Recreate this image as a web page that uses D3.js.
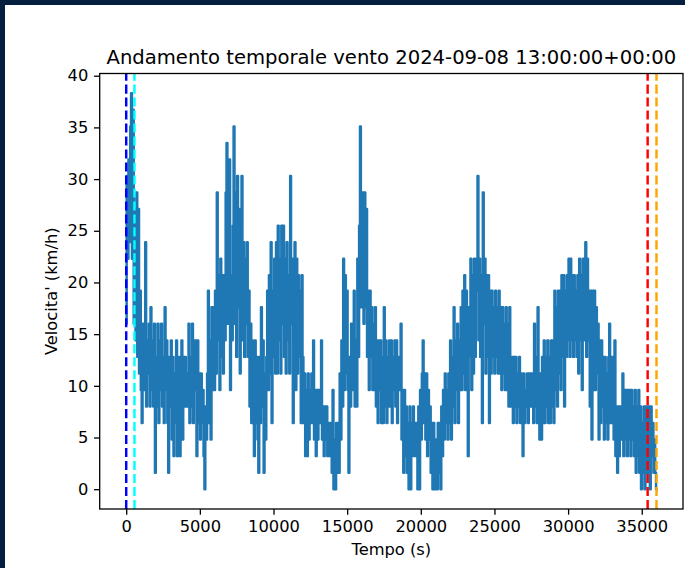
<!DOCTYPE html>
<html>
<head>
<meta charset="utf-8">
<script src="https://cdn.jsdelivr.net/npm/d3@7"></script>
<style>
  html, body { margin: 0; padding: 0; background: #05203f; }
  svg { display: block; }
  text { font-family: "DejaVu Sans", sans-serif; fill: #000; }
</style>
</head>
<body>
<svg id="chart" width="685" height="568"></svg>
<script>
// Wind speed (km/h), one reading per minute from the start of the window
const windSpeedKmh = [
  16,30.3,22.3,31.9,23.9,35.1,38.3,22.3,36.7,16,
  27.1,14.4,28.7,12.8,27.1,11.2,19.2,9.6,6.4,16,
  16,9.6,23.9,8,14.4,11.2,16,8,17.6,9.6,
  14.4,8,16,1.6,12.8,8,16,6.4,14.4,9.6,
  16,8,12.8,6.4,17.6,9.6,14.4,6.4,1.6,12.8,
  8,14.4,4.8,12.8,3.2,11.2,6.4,14.4,3.2,9.6,
  12.8,3.2,11.2,14.4,4.8,12.8,8,12.8,8,11.2,
  8,16,6.4,12.8,8,16,6.4,14.4,9.6,14.4,
  3.2,14.4,6.4,11.2,4.8,11.2,6.4,9.6,3.2,0,
  8,4.8,11.2,19.2,6.4,14.4,4.8,17.6,9.6,17.6,
  9.6,19.2,11.2,28.7,14.4,20.7,9.6,22.3,12.8,20.7,
  11.2,20.7,14.4,28.7,33.5,16,23.9,31.9,9.6,20.7,
  14.4,25.5,35.1,16,28.7,12.8,30.3,17.6,27.1,11.2,
  23.9,30.3,14.4,23.9,12.8,22.3,16,23.9,12.8,19.2,
  8,16,6.4,14.4,8,3.2,14.4,6.4,12.8,4.8,
  1.6,12.8,6.4,17.6,8,14.4,1.6,11.2,4.8,12.8,
  19.2,9.6,20.7,11.2,23.9,6.4,19.2,12.8,22.3,11.2,
  23.9,11.2,25.5,14.4,22.3,11.2,25.5,16,25.5,12.8,
  22.3,11.2,23.9,14.4,20.7,11.2,30.3,16,22.3,6.4,
  14.4,23.9,9.6,22.3,11.2,20.7,12.8,19.2,6.4,20.7,
  12.8,6.4,11.2,3.2,9.6,3.2,11.2,4.8,9.6,6.4,
  11.2,6.4,14.4,4.8,9.6,3.2,9.6,4.8,9.6,6.4,
  9.6,14.4,4.8,8,3.2,8,4.8,8,3.2,6.4,
  6.4,3.2,6.4,1.6,9.6,0,4.8,0,6.4,1.6,
  6.4,1.6,11.2,4.8,14.4,8,22.3,9.6,20.7,11.2,
  19.2,9.6,1.6,12.8,8,16,9.6,12.8,19.2,8,
  14.4,8,22.3,12.8,25.5,35.1,17.6,23.9,28.7,16,
  28.7,17.6,27.1,12.8,19.2,9.6,19.2,12.8,17.6,9.6,
  16,9.6,17.6,8,14.4,6.4,14.4,9.6,14.4,6.4,
  12.8,6.4,17.6,8,14.4,6.4,12.8,8,14.4,8,
  14.4,6.4,12.8,9.6,14.4,8,14.4,6.4,12.8,9.6,
  12.8,16,4.8,9.6,1.6,9.6,3.2,8,1.6,6.4,
  0,8,0,6.4,3.2,8,3.2,6.4,3.2,6.4,
  0,8,0,9.6,4.8,11.2,14.4,6.4,11.2,4.8,
  11.2,3.2,9.6,4.8,8,1.6,6.4,0,6.4,0,
  0,4.8,0,6.4,1.6,6.4,0,8,3.2,9.6,
  4.8,11.2,6.4,9.6,4.8,11.2,6.4,14.4,4.8,12.8,
  8,17.6,6.4,14.4,9.6,16,6.4,14.4,9.6,17.6,
  9.6,19.2,11.2,20.7,9.6,19.2,11.2,3.2,17.6,12.8,
  22.3,9.6,20.7,11.2,22.3,12.8,19.2,22.3,30.3,14.4,
  22.3,12.8,20.7,6.4,28.7,16,22.3,11.2,20.7,12.8,
  20.7,6.4,19.2,11.2,19.2,12.8,17.6,11.2,19.2,12.8,
  17.6,11.2,19.2,11.2,17.6,9.6,17.6,11.2,16,9.6,
  17.6,9.6,16,8,17.6,11.2,8,12.8,6.4,12.8,
  8,12.8,6.4,11.2,8,12.8,6.4,11.2,8,3.2,
  11.2,6.4,9.6,8,11.2,6.4,11.2,8,11.2,8,
  11.2,6.4,16,8,12.8,6.4,17.6,8,4.8,11.2,
  4.8,12.8,6.4,14.4,6.4,12.8,8,14.4,6.4,12.8,
  6.4,14.4,8,14.4,6.4,19.2,9.6,17.6,8,19.2,
  11.2,19.2,9.6,20.7,12.8,20.7,8,19.2,12.8,20.7,
  14.4,22.3,12.8,22.3,14.4,20.7,12.8,20.7,14.4,19.2,
  12.8,20.7,11.2,22.3,14.4,20.7,9.6,22.3,14.4,22.3,
  23.9,12.8,22.3,14.4,19.2,8,19.2,4.8,19.2,9.6,
  19.2,9.6,17.6,11.2,16,4.8,14.4,6.4,14.4,8,
  12.8,4.8,12.8,6.4,11.2,4.8,12.8,16,6.4,12.8,
  6.4,12.8,4.8,14.4,3.2,8,1.6,8,3.2,8,
  4.8,8,11.2,3.2,9.6,4.8,9.6,3.2,9.6,4.8,
  9.6,3.2,9.6,4.8,8,3.2,9.6,1.6,8,3.2,
  9.6,1.6,8,0,6.4,1.6,8,0,8,1.6,
  8,1.6,8,0,8,3.2,6.4,1.6,4.8,1.6,
  0
];
const sampleIntervalS = 60;

// Reference instants marked with dashed vertical lines (seconds)
const markerTimesS = [0, 560, 35400, 36000];
const markerColors = ["#0000ff", "#00ffff", "#ff0000", "#ffa500"];

const xTickValues = [0, 5000, 10000, 15000, 20000, 25000, 30000, 35000];
const yTickValues = [0, 5, 10, 15, 20, 25, 30, 35, 40];

const chartTitle = "Andamento temporale vento 2024-09-08 13:00:00+00:00";
const xAxisLabel = "Tempo (s)";
const yAxisLabel = "Velocita' (km/h)";

// ---- layout ----
const svg = d3.select("#chart");
const plot = { left: 99.7, right: 683, top: 73.5, bottom: 509 };
const tickFont = 16.3;

svg.append("rect").attr("width", 685).attr("height", 568).attr("fill", "#05203f");
svg.append("rect").attr("x", 5).attr("y", 5).attr("width", 680).attr("height", 563).attr("fill", "#fff");

const times = windSpeedKmh.map((_, i) => i * sampleIntervalS);
const padded = ([lo, hi]) => { const m = (hi - lo) * 0.05; return [lo - m, hi + m]; };

const x = d3.scaleLinear().domain(padded(d3.extent(times))).range([plot.left, plot.right]);
const y = d3.scaleLinear().domain(padded(d3.extent(windSpeedKmh))).range([plot.bottom, plot.top]);

// wind trace: readings are held until the next sample, so jumps are vertical
const line = d3.line().x((d, i) => x(times[i])).y(d => y(d)).curve(d3.curveStep);
svg.append("path")
  .datum(windSpeedKmh)
  .attr("d", line)
  .attr("fill", "none")
  .attr("stroke", "#1f77b4")
  .attr("stroke-width", 2.45)
  .attr("stroke-linejoin", "round")
  .attr("stroke-linecap", "square");

// dashed markers spanning the full plot height
svg.append("g").selectAll("line")
  .data(markerTimesS)
  .join("line")
  .attr("x1", d => x(d)).attr("x2", d => x(d))
  .attr("y1", plot.bottom).attr("y2", plot.top)
  .attr("stroke", (d, i) => markerColors[i])
  .attr("stroke-width", 2.45)
  .attr("stroke-dasharray", "9.06,3.92");

// axes frame
svg.append("rect")
  .attr("x", plot.left).attr("y", plot.top)
  .attr("width", plot.right - plot.left).attr("height", plot.bottom - plot.top)
  .attr("fill", "none").attr("stroke", "#000").attr("stroke-width", 1.3);

const xAxis = d3.axisBottom(x).tickValues(xTickValues).tickFormat(d3.format("d"))
  .tickSize(5.7).tickPadding(5.7).tickSizeOuter(0);
const yAxis = d3.axisLeft(y).tickValues(yTickValues).tickFormat(d3.format("d"))
  .tickSize(5.7).tickPadding(5.7).tickSizeOuter(0);

const gx = svg.append("g").attr("transform", `translate(0,${plot.bottom})`).call(xAxis);
const gy = svg.append("g").attr("transform", `translate(${plot.left},0)`).call(yAxis);
[gx, gy].forEach(g => {
  g.select(".domain").remove();
  g.selectAll(".tick line").attr("stroke", "#000").attr("stroke-width", 1.3);
  g.selectAll(".tick text")
    .attr("fill", "#000")
    .style("font-family", "'DejaVu Sans', sans-serif")
    .style("font-size", tickFont + "px");
});

// title and axis labels
const cx = (plot.left + plot.right) / 2;
svg.append("text")
  .attr("x", cx).attr("y", 63.9)
  .attr("text-anchor", "middle")
  .style("font-size", "19.6px")
  .text(chartTitle);

svg.append("text")
  .attr("x", cx).attr("y", 554.5)
  .attr("text-anchor", "middle")
  .style("font-size", tickFont + "px")
  .text(xAxisLabel);

svg.append("text")
  .attr("transform", `translate(57,${(plot.top + plot.bottom) / 2}) rotate(-90)`)
  .attr("text-anchor", "middle")
  .style("font-size", tickFont + "px")
  .text(yAxisLabel);
</script>
</body>
</html>
